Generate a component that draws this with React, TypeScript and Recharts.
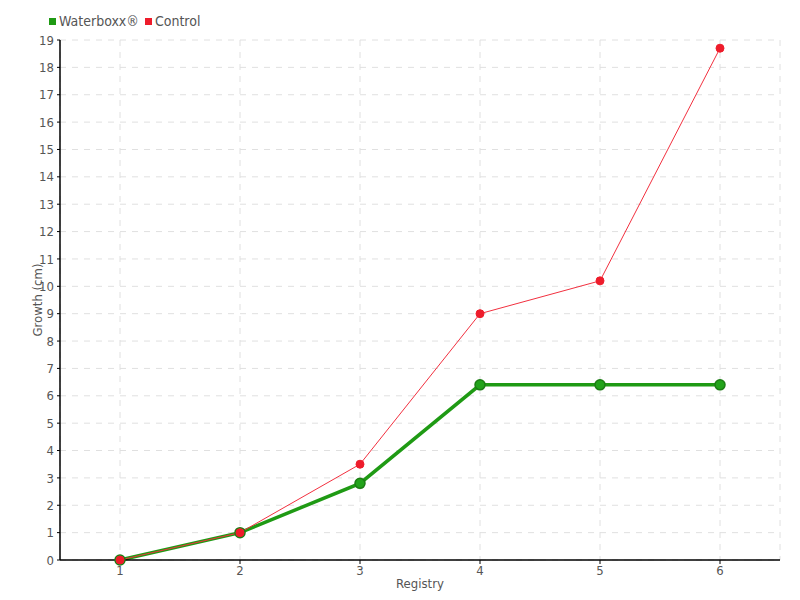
import { LineChart, Line, XAxis, YAxis, CartesianGrid } from "recharts";

const registry = ["1", "2", "3", "4", "5", "6"];
const waterboxx = [0, 1, 2.8, 6.4, 6.4, 6.4];
const control = [0, 1, 3.5, 9, 10.2, 18.7];
const yTicks = [0, 1, 2, 3, 4, 5, 6, 7, 8, 9, 10, 11, 12, 13, 14, 15, 16, 17, 18, 19];

const data = registry.map((r, i) => ({
  registry: r,
  waterboxx: waterboxx[i],
  control: control[i],
}));

const FONT = "'DejaVu Sans', sans-serif";
const textStyle = { fontFamily: FONT, fontStretch: "condensed" as const, fontSize: 13, fill: "#555" };

const legendItems = [
  { label: "Waterboxx®", color: "#1f9a14" },
  { label: "Control", color: "#ee1c2b" },
];

export default function App() {
  return (
    <div style={{ margin: -8, width: 800, height: 600, background: "#fff", position: "relative" }}>
      <div
        style={{
          position: "absolute",
          top: 13,
          left: 49,
          display: "flex",
          gap: 6,
          fontFamily: FONT,
          fontStretch: "condensed",
          fontSize: 14,
          color: "#555",
        }}
      >
        {legendItems.map((it) => (
          <span key={it.label} style={{ display: "flex", alignItems: "center" }}>
            <span style={{ width: 7, height: 7, background: it.color, marginRight: 3, display: "inline-block" }} />
            {it.label}
          </span>
        ))}
      </div>
      <LineChart width={800} height={600} data={data} margin={{ top: 40, right: 20, bottom: 0, left: 30 }}>
        <CartesianGrid stroke="#e0e0e0" strokeDasharray="6 6" />
        <XAxis
          dataKey="registry"
          padding={{ left: 60, right: 60 }}
          height={40}
          axisLine={{ stroke: "#000", strokeWidth: 1.5 }}
          tickLine={{ stroke: "#000" }}
          tickSize={4}
          tickMargin={2}
          tick={textStyle}
          label={{ value: "Registry", position: "insideBottom", offset: 12, style: textStyle }}
        />
        <YAxis
          domain={[0, 19]}
          ticks={yTicks}
          interval={0}
          width={30}
          axisLine={{ stroke: "#000", strokeWidth: 1.5 }}
          tickLine={{ stroke: "#000" }}
          tickSize={3}
          tickMargin={3}
          tick={textStyle}
          label={{ value: "Growth (cm)", angle: -90, position: "insideLeft", offset: 7, style: { ...textStyle, textAnchor: "middle" } }}
        />
        <Line
          dataKey="waterboxx"
          name="Waterboxx®"
          stroke="#1f9a14"
          strokeWidth={3.5}
          dot={{ r: 5, fill: "#22a31a", stroke: "#1c7d14", strokeWidth: 1.5 }}
          isAnimationActive={false}
        />
        <Line
          dataKey="control"
          name="Control"
          stroke="#f2303f"
          strokeWidth={1}
          dot={{ r: 4, fill: "#ee1c2b", stroke: "#ee1c2b", strokeWidth: 1 }}
          isAnimationActive={false}
        />
      </LineChart>
    </div>
  );
}
